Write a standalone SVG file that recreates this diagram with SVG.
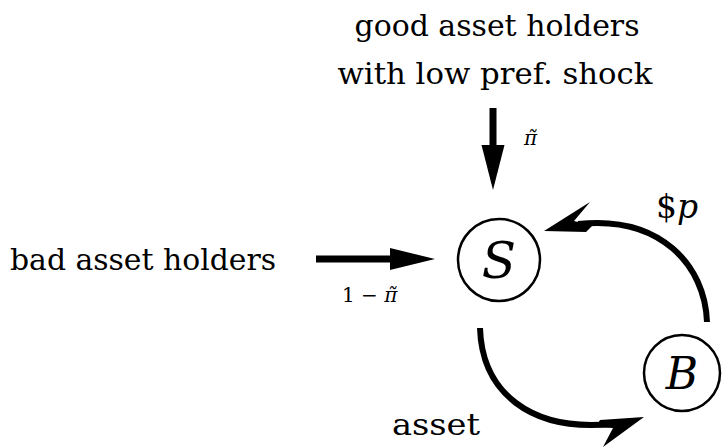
<svg xmlns="http://www.w3.org/2000/svg" width="723" height="447" viewBox="0 0 723 447">
<style>
text{fill:#000}
.m{font-style:italic}
.node{fill:#fff;stroke:#000;stroke-width:2.5}
.curve{fill:none;stroke:#000;stroke-width:6}
</style>
<rect width="723" height="447" fill="#fff"/>
<g id="labels" font-family="DejaVu Serif, Liberation Serif, serif">
<text x="497" y="36" font-size="30" text-anchor="middle" textLength="285" lengthAdjust="spacingAndGlyphs">good asset holders</text>
<text x="495" y="84" font-size="30" text-anchor="middle" textLength="315" lengthAdjust="spacingAndGlyphs">with low pref. shock</text>
<text x="10" y="270" font-size="30" textLength="266" lengthAdjust="spacingAndGlyphs">bad asset holders</text>
<text x="392" y="435" font-size="30" textLength="88" lengthAdjust="spacingAndGlyphs">asset</text>
<text x="656" y="218" font-size="33">$<tspan class="m">p</tspan></text>
<text class="m" x="524" y="145" font-size="20">π̃</text>
<text x="342" y="302" font-size="20">1 − <tspan class="m">π̃</tspan></text>
</g>
<g id="connectors">
<g id="in-top">
<rect x="489.5" y="108" width="7" height="40"/>
<polygon points="481.5,145 504.5,145 493,190"/>
</g>
<g id="in-left">
<rect x="316" y="255.5" width="76" height="7"/>
<polygon points="390,248 390,270 435,259"/>
</g>
<g id="B-to-S">
<path class="curve" d="M707,322 C705,265 660,215 578,224"/>
<polygon points="544,231 590,202 574,221 592,226 586,232"/>
</g>
<g id="S-to-B">
<path class="curve" d="M480,328 C482,392 530,432 612,424"/>
<polygon points="644,417 603,447 613,428 596,427 600,420"/>
</g>
</g>
<g id="S" font-family="DejaVu Serif, Liberation Serif, serif">
<circle class="node" cx="499" cy="260" r="41"/>
<text class="m" x="499" y="278" font-size="50" text-anchor="middle">S</text>
</g>
<g id="B" font-family="DejaVu Serif, Liberation Serif, serif">
<circle class="node" cx="682" cy="373" r="38"/>
<text class="m" x="682" y="389" font-size="44" text-anchor="middle">B</text>
</g>
</svg>
